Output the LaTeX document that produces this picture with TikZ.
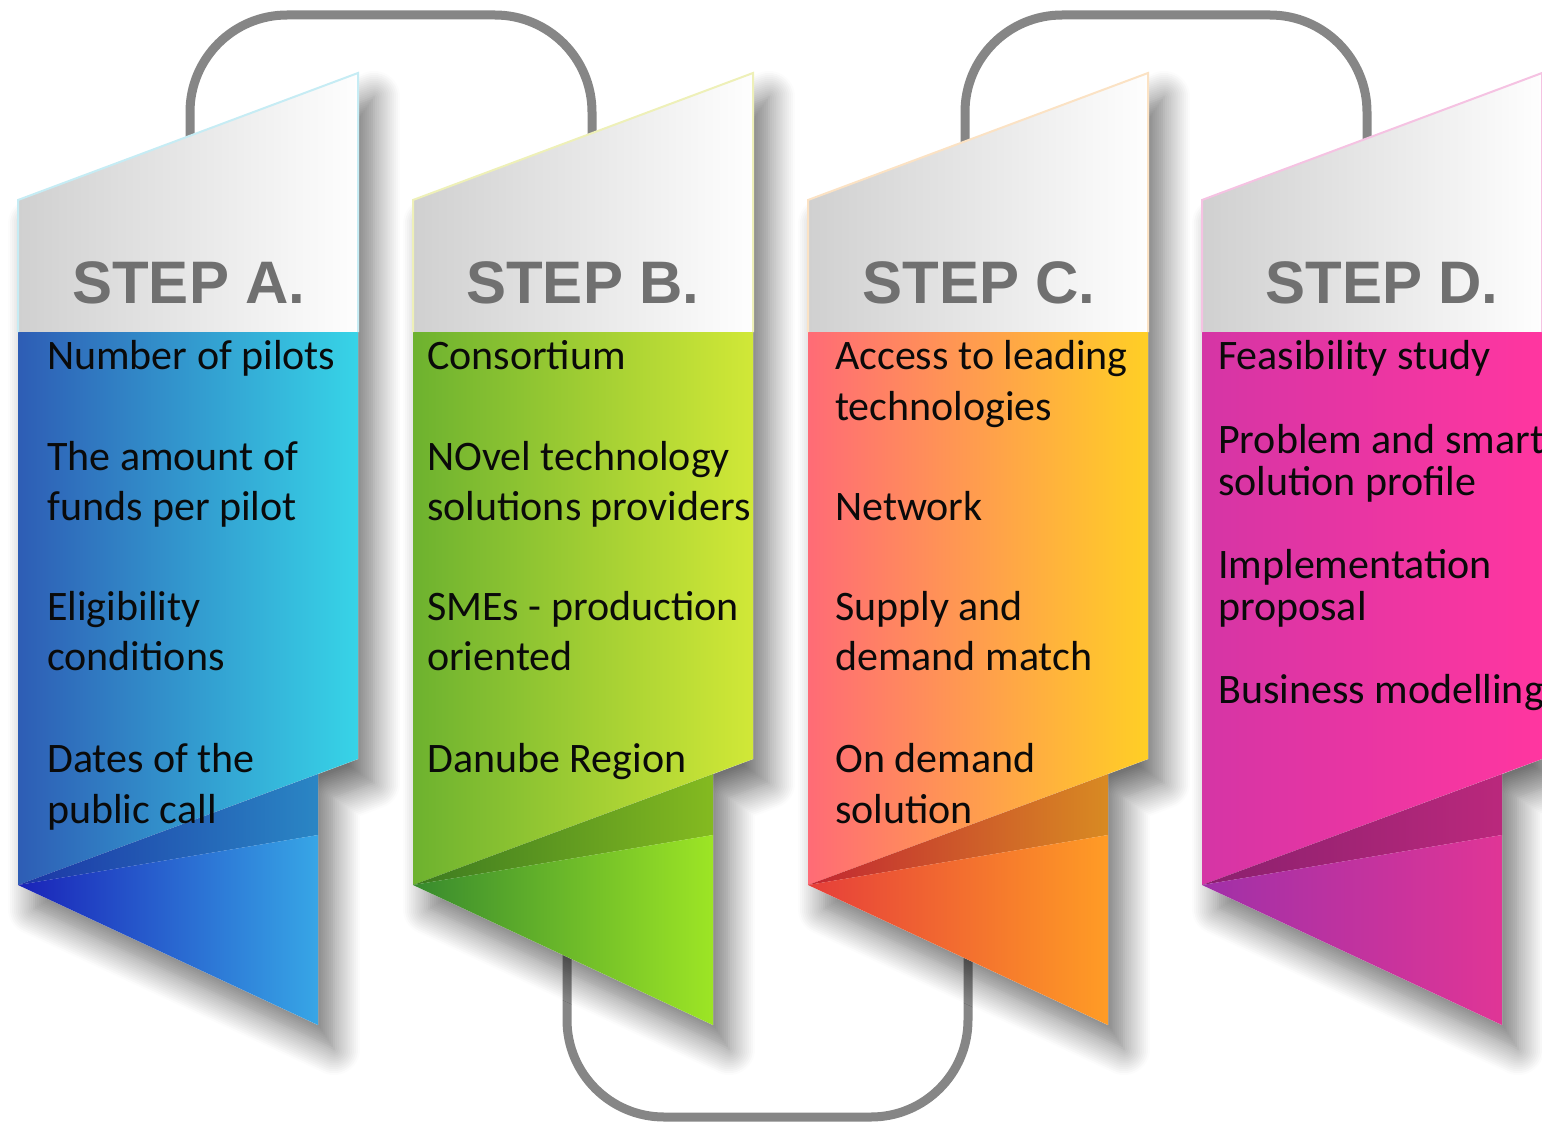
\documentclass[tikz,border=0pt]{standalone}
\usepackage{fontspec}
\setmainfont{Carlito}
\newfontfamily\headfont{Liberation Sans}
\usetikzlibrary{shadows.blur}
\definecolor{loopc}{HTML}{868686}
\definecolor{hdl}{HTML}{D0D0D0}
\definecolor{hdr}{HTML}{FEFEFE}
\definecolor{headc}{HTML}{707070}
\definecolor{txtc}{HTML}{0A0A0A}
% panel A
\definecolor{Abl}{HTML}{2E5DB5}\definecolor{Abr}{HTML}{37D4E7}
\definecolor{Adl}{HTML}{1C35A5}\definecolor{Adr}{HTML}{2A86C4}
\definecolor{All}{HTML}{1A22B8}\definecolor{Alr}{HTML}{37A6E6}
\definecolor{Aed}{HTML}{C6ECF4}
% panel B
\definecolor{Bbl}{HTML}{6DB22F}\definecolor{Bbr}{HTML}{D1E837}
\definecolor{Bdl}{HTML}{3C7A20}\definecolor{Bdr}{HTML}{84BA20}
\definecolor{Bll}{HTML}{378A2E}\definecolor{Blr}{HTML}{9DE525}
\definecolor{Bed}{HTML}{EEF0B8}
% panel C
\definecolor{Cbl}{HTML}{FF6B76}\definecolor{Cbr}{HTML}{FFCF25}
\definecolor{Cdl}{HTML}{C22632}\definecolor{Cdr}{HTML}{D88A22}
\definecolor{Cll}{HTML}{E63E3A}\definecolor{Clr}{HTML}{FF9C25}
\definecolor{Ced}{HTML}{FBE2C4}
% panel D
\definecolor{Dbl}{HTML}{D535A5}\definecolor{Dbr}{HTML}{FF36A0}
\definecolor{Ddl}{HTML}{8A206E}\definecolor{Ddr}{HTML}{BA287C}
\definecolor{Dll}{HTML}{A030A8}\definecolor{Dlr}{HTML}{E03596}
\definecolor{Ded}{HTML}{F5C2E2}
\tikzset{
  loopline/.style={draw=loopc, line width=9pt, rounded corners=97pt},
  bodytext/.style={anchor=base west, inner sep=0pt, text=txtc,
    font=\fontsize{42}{50}\selectfont},
  headtext/.style={anchor=base, inner sep=0pt, text=headc,
    font=\headfont\bfseries\fontsize{60}{60}\selectfont},
  panelshadow/.style={fill=white, blur shadow={shadow xshift=16pt,
    shadow yshift=-24pt, shadow blur radius=26pt, shadow blur steps=14,
    shadow opacity=55}},
}
\newcommand\steppanel[2]{%
  \begin{scope}[xshift=#1pt]
    \path[panelshadow] (0,200) -- (340,73) -- (340,759) -- (300,774)
      -- (300,1025) -- (0,885) -- cycle;
    \path[left color=hdl, right color=hdr] (0,200) -- (340,73) -- (340,332)
      -- (0,332) -- cycle;
    \path[left color=#2bl, right color=#2br] (0,332) -- (340,332) -- (340,759)
      -- (0,885) -- cycle;
    \path[left color=#2dl, right color=#2dr] (0,885) -- (300,774) -- (300,835)
      -- cycle;
    \path[left color=#2ll, right color=#2lr] (0,885) -- (300,835) -- (300,1025)
      -- cycle;
    \draw[#2ed, line width=2pt] (0,332) -- (0,200) -- (340,73) -- (340,332);
  \end{scope}}
\begin{document}
\begin{tikzpicture}[x=1pt,y=-1pt]
\useasboundingbox (0,0) rectangle (1542,1124);
\clip (0,0) rectangle (1542,1124);
% connector loops (behind the panels)
\coordinate (ab1) at (190,160);
\coordinate (ab2) at (592,160);
\coordinate (bc1) at (567,940);
\coordinate (bc2) at (968,940);
\coordinate (cd1) at (965,160);
\coordinate (cd2) at (1367,160);
\draw[loopline] (ab1) -- (ab1 |- 0,15) -- (ab2 |- 0,15) -- (ab2);
\draw[loopline] (bc1) -- (bc1 |- 0,1117) -- (bc2 |- 0,1117) -- (bc2);
\draw[loopline] (cd1) -- (cd1 |- 0,15) -- (cd2 |- 0,15) -- (cd2);
% panels
\steppanel{18}{A}
\steppanel{413}{B}
\steppanel{808}{C}
\steppanel{1202}{D}
% headers
\node[headtext] (hA) at (189,303) {STEP A.};
\node[headtext] (hB) at (583,303) {STEP B.};
\node[headtext] (hC) at (979,303) {STEP C.};
\node[headtext] (hD) at (1382,303) {STEP D.};
% texts
\foreach \t/\y [count=\i] in {Number of pilots/369, The amount of/470,
  funds per pilot/520, Eligibility/620, conditions/670, Dates of the/772,
  public call/823}
  \node[bodytext] (tA\i) at (47,\y) {\t};
\foreach \t/\y [count=\i] in {Consortium/369, NOvel technology/470,
  solutions providers/520, SMEs - production/620, oriented/670,
  Danube Region/772}
  \node[bodytext] (tB\i) at (427,\y) {\t};
\foreach \t/\y [count=\i] in {Access to leading/369, technologies/420,
  Network/520, Supply and/620, demand match/670, On demand/772,
  solution/823}
  \node[bodytext] (tC\i) at (835,\y) {\t};
\foreach \t/\y [count=\i] in {Feasibility study/369, Problem and smart/453,
  solution profile/495, Implementation/578, proposal/620,
  Business modelling/703}
  \node[bodytext] (tD\i) at (1218,\y) {\t};
\end{tikzpicture}
\end{document}
